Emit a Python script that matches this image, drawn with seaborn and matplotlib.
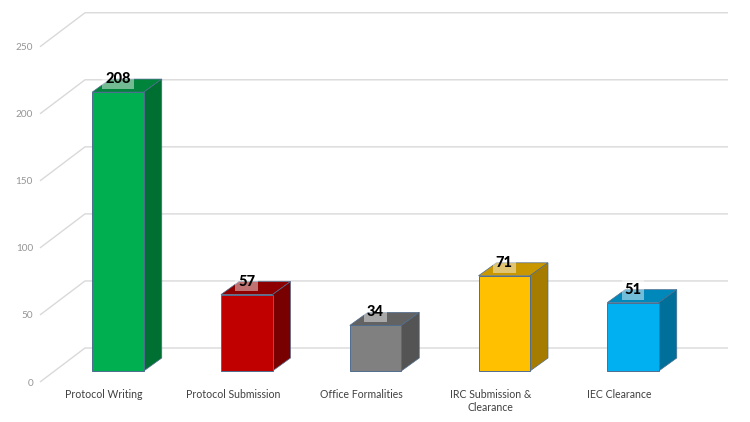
import matplotlib
matplotlib.use("Agg")
import matplotlib.pyplot as plt
from matplotlib.patches import Polygon
from matplotlib.transforms import ScaledTranslation
import seaborn as sns
import pandas as pd

categories = ["Protocol Writing", "Protocol Submission", "Office Formalities",
              "IRC Submission &\nClearance", "IEC Clearance"]
values = [208, 57, 34, 71, 51]
y_ticks = [0, 50, 100, 150, 200, 250]
front_colors = ["#00B050", "#C00000", "#808080", "#FFC000", "#00B0F0"]
top_colors = ["#00843C", "#8E0000", "#626262", "#C99700", "#0088BA"]
side_colors = ["#006F32", "#780000", "#545454", "#A67C00", "#006F99"]

sns.set_theme(style="white")
plt.rcParams["font.family"] = ["Lato", "DejaVu Sans"]

DPI = 100
fig = plt.figure(figsize=(7.5, 4.22), dpi=DPI)
ax = fig.add_axes([0, 0, 1, 1])

# pixel geometry of the oblique projection
PX_PER_CAT = 128.75
PX_PER_VAL = 1.341
X0_PX = 118.0   # pixel of first bar centre
Y0_PX = 371.0   # pixel of bar base
W, H = 750, 422

dx = 18 / PX_PER_CAT          # bar depth offset in x
dy = 13 / PX_PER_VAL          # bar depth offset in y
front_dy = -11 / PX_PER_VAL   # label plane offset
back_dy = 23 / PX_PER_VAL     # back wall offset
x_front = (40 - X0_PX) / PX_PER_CAT
x_back = (85 - X0_PX) / PX_PER_CAT
x_right = (728 - X0_PX) / PX_PER_CAT

df = pd.DataFrame({"category": categories, "value": values})
sns.barplot(data=df, x="category", y="value", hue="category", palette=front_colors,
            width=0.4, saturation=1, legend=False, ax=ax,
            edgecolor="#4F6D8F", linewidth=0.7, zorder=2)

# back wall gridlines and floor/side diagonals
for t in y_ticks:
    ax.plot([x_front, x_back, x_right], [t + front_dy, t + back_dy, t + back_dy],
            color="#D9D9D9", lw=1.0, zorder=0, solid_capstyle="butt")

for patch, v, tc, sc in zip(ax.patches, values, top_colors, side_colors):
    x0 = patch.get_x()
    w = patch.get_width()
    h = patch.get_height()
    top = Polygon([(x0, h), (x0 + w, h), (x0 + w + dx, h + dy), (x0 + dx, h + dy)],
                  closed=True, facecolor=tc, edgecolor="#4F6D8F", lw=0.5, zorder=1.9)
    side = Polygon([(x0 + w, 0), (x0 + w + dx, dy), (x0 + w + dx, h + dy), (x0 + w, h)],
                   closed=True, facecolor=sc, edgecolor="#4F6D8F", lw=0.5, zorder=1.9)
    ax.add_patch(top)
    ax.add_patch(side)
    ax.text(x0 + w / 2, h + dy, str(v), ha="center", va="center",
            fontsize=10.5, fontweight="black", color="black", zorder=5,
            bbox=dict(boxstyle="square,pad=0.2", fc="white", alpha=0.45, ec="none"))

ax.set_xlim((0 - X0_PX) / PX_PER_CAT, (W - X0_PX) / PX_PER_CAT)
ax.set_ylim((Y0_PX - H) / PX_PER_VAL, Y0_PX / PX_PER_VAL)

# axes ticks / labels
ax.set_xlabel("")
ax.set_ylabel("")
for s in ax.spines.values():
    s.set_visible(False)
ax.grid(False)
ax.set_yticks(y_ticks)
ax.set_yticklabels([str(t) for t in y_ticks])
ax.tick_params(axis="y", length=0, pad=-33 * 72 / DPI, labelsize=7.2, labelcolor="#959595")
ax.tick_params(axis="x", length=0, pad=-33 * 72 / DPI, labelsize=7.6, labelcolor="#404040")
ax.set_xticks(range(len(categories)))
ax.set_xticklabels(categories)

yoff = ScaledTranslation(0, -11 / DPI, fig.dpi_scale_trans)
for lab in ax.get_yticklabels():
    lab.set_transform(lab.get_transform() + yoff)
xoff = ScaledTranslation(-14 / DPI, 0, fig.dpi_scale_trans)
for lab in ax.get_xticklabels():
    lab.set_transform(lab.get_transform() + xoff)
    lab.set_linespacing(1.25)

fig.savefig("out.png", dpi=DPI)
